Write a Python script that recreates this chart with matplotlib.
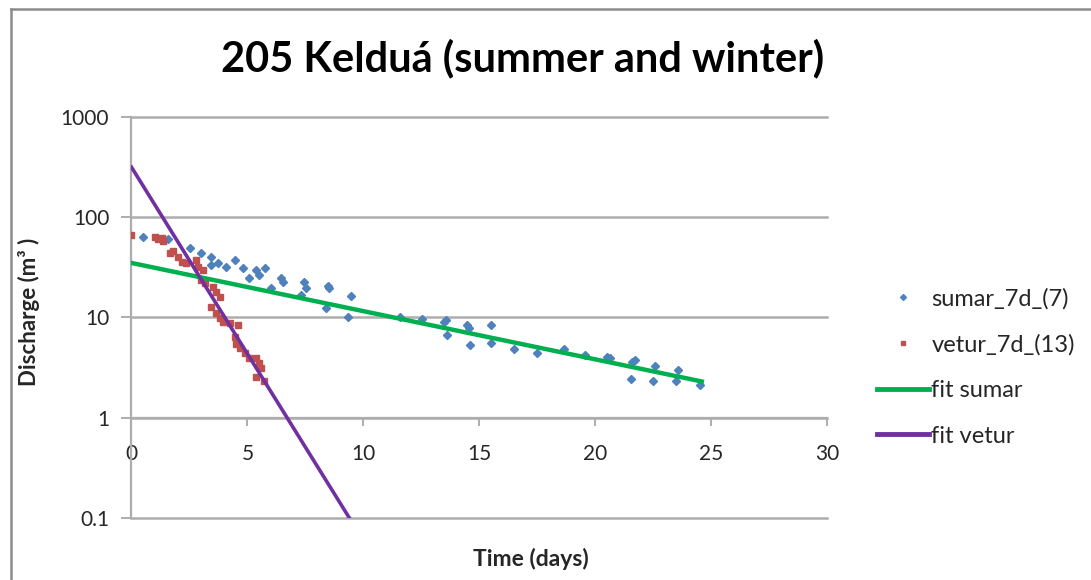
import matplotlib
matplotlib.use("Agg")
import matplotlib.pyplot as plt
from matplotlib.lines import Line2D

plt.rcParams['font.family'] = ['Lato', 'DejaVu Sans']

# Summer recession points (days, discharge m3)
sumar_t = [0.51, 1.58, 2.51, 3.02, 3.45, 3.45, 3.73, 4.09, 4.45, 4.81, 5.09,
           5.38, 5.52, 5.74, 6.03, 6.46, 6.53, 7.32, 7.46, 7.53, 8.39, 8.46,
           8.53, 9.32, 9.47, 11.6, 12.55, 13.48, 13.55, 13.62, 14.48, 14.55,
           14.62, 15.49, 15.49, 16.49, 17.49, 18.64, 19.57, 20.5, 20.64,
           21.55, 21.57, 21.72, 22.5, 22.58, 23.47, 23.58, 24.51]
sumar_q = [63, 60, 49, 43.7, 40.5, 33.4, 34.8, 32, 37.5, 30.9, 24.7,
           29.9, 26.6, 31, 19.6, 24.7, 22.8, 16.8, 22.8, 19.6, 12.4, 20.6,
           19.6, 10.1, 16.4, 10.2, 9.6, 9.1, 9.5, 6.7, 8.4, 7.8,
           5.3, 8.4, 5.6, 4.9, 4.4, 4.83, 4.24, 4.07, 3.93,
           2.43, 3.63, 3.78, 2.3, 3.29, 2.3, 2.96, 2.13]

# Winter recession points (days, discharge m3)
vetur_t = [0.0, 1.0, 1.15, 1.3, 1.35, 1.65, 1.8, 2.01, 2.16, 2.37, 2.8, 2.87,
           3.09, 3.02, 3.16, 3.52, 3.66, 3.8, 3.45, 3.66, 3.8, 3.95, 4.23,
           4.59, 4.45, 4.52, 4.66, 4.88, 5.09, 5.38, 5.52, 5.6, 5.38, 5.7]
vetur_q = [66.5, 63, 60, 62, 58, 44, 46, 40.4, 36, 34.7, 37.5, 32,
           29.8, 23.7, 22, 20.3, 18.1, 16.1, 12.8, 11, 9.8, 9.1, 8.8,
           8.4, 6.45, 5.5, 4.94, 4.4, 3.93, 3.93, 3.5, 3.1, 2.57, 2.3]

# Exponential fit lines, given by their end points (straight on log axis)
fit_sumar_t = [0.0, 24.6]
fit_sumar_q = [35.0, 2.3]
fit_vetur_t = [0.0, 9.4]
fit_vetur_q = [316.0, 0.1]

x_ticks = [0, 5, 10, 15, 20, 25, 30]
y_ticks = [0.1, 1, 10, 100, 1000]
y_tick_labels = ['0.1', '1', '10', '100', '1000']

grid_col = '#ADADAD'
text_col = '#262626'

fig = plt.figure(figsize=(10.91, 5.80), dpi=100)
ax = fig.add_axes([0.1205, 0.1069, 0.6375, 0.6914])

ax.set_yscale('log')
ax.set_xlim(0, 30)
ax.set_ylim(0.1, 1000)

ax.plot(sumar_t, sumar_q, linestyle='none', marker='D', ms=4.2,
        color='#4F81BD', label='sumar_7d_(7)', zorder=3)
ax.plot(vetur_t, vetur_q, linestyle='none', marker='s', ms=4.5,
        color='#C0504D', label='vetur_7d_(13)', zorder=3)
ax.plot(fit_sumar_t, fit_sumar_q, color='#00B050', lw=3.2,
        label='fit sumar', zorder=4)
ax.plot(fit_vetur_t, fit_vetur_q, color='#7030A0', lw=2.6,
        label='fit vetur', zorder=5)

# Horizontal axis crosses the vertical axis at 1
for s in ['top', 'right']:
    ax.spines[s].set_visible(False)
ax.spines['bottom'].set_position(('data', 1))
ax.spines['bottom'].set_color(grid_col)
ax.spines['bottom'].set_linewidth(1.6)
ax.spines['left'].set_color(grid_col)
ax.spines['left'].set_linewidth(1.6)

ax.set_xticks(x_ticks)
ax.set_xticklabels([str(v) for v in x_ticks])
ax.set_yticks(y_ticks)
ax.set_yticklabels(y_tick_labels)
ax.minorticks_off()
ax.tick_params(axis='x', direction='out', length=6, width=1.4,
               color=grid_col, pad=13, labelsize=15, labelcolor=text_col)
ax.tick_params(axis='y', direction='out', length=7, width=1.4,
               color=grid_col, pad=9, labelsize=15, labelcolor=text_col)

ax.yaxis.grid(True, color=grid_col, lw=1.8)
ax.xaxis.grid(False)
for gl in ax.yaxis.get_gridlines():
    gl.set_clip_on(False)
ax.set_axisbelow(True)

ax.set_xlabel('Time (days)', fontsize=16.5, fontweight='bold', color=text_col)
ax.xaxis.set_label_coords(0.574, -0.075)
ax.set_ylabel('Discharge (m³ )', fontsize=16, fontweight='bold',
              color=text_col)
ax.yaxis.set_label_coords(-0.1316, 0.514)

fig.text(0.479, 0.9, '205 Kelduá (summer and winter)', fontsize=30,
         fontweight='bold', ha='center', va='center', color='black')

handles = [
    Line2D([], [], linestyle='none', marker='D', ms=3, color='#4F81BD'),
    Line2D([], [], linestyle='none', marker='s', ms=3.5, color='#C0504D'),
    Line2D([], [], color='#00B050', lw=3.5),
    Line2D([], [], color='#7030A0', lw=3.5),
]
labels = ['sumar_7d_(7)', 'vetur_7d_(13)', 'fit sumar', 'fit vetur']
leg = ax.legend(handles, labels, loc='upper left',
                bbox_to_anchor=(0.793, 0.524), bbox_transform=fig.transFigure,
                frameon=False, fontsize=17, handlelength=2.2,
                handletextpad=0.1, labelspacing=1.04, borderpad=0)
for t in leg.get_texts():
    t.set_color(text_col)

# Outer chart frame
fig.add_artist(Line2D([11 / 1091, 1.0], [1 - 9 / 580, 1 - 9 / 580],
                      transform=fig.transFigure, color='#8C8C8C', lw=1.8))
fig.add_artist(Line2D([11 / 1091, 11 / 1091], [0.0, 1 - 9 / 580],
                      transform=fig.transFigure, color='#8C8C8C', lw=1.8))

fig.savefig('out.png', dpi=100)
